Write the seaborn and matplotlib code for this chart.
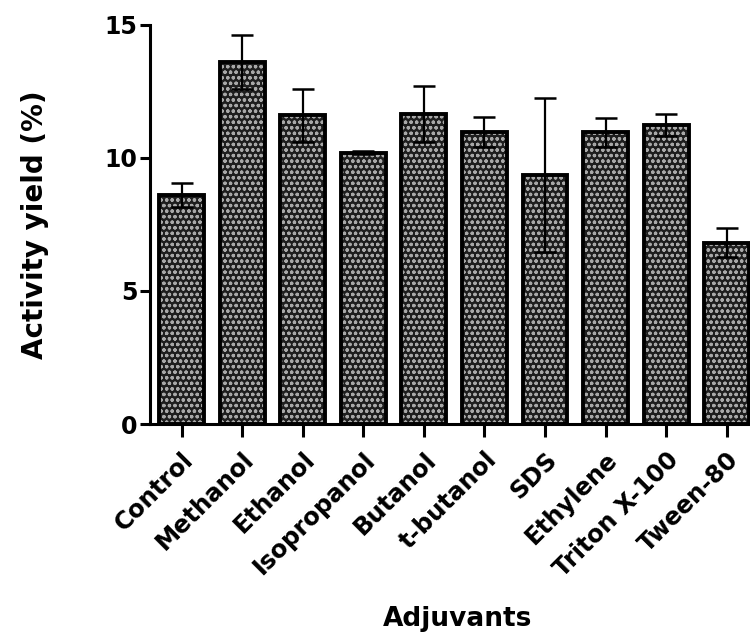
import matplotlib
matplotlib.use("Agg")
import matplotlib.pyplot as plt
import seaborn as sns
import pandas as pd

# Activity yield of the enzyme with different adjuvants (mean ± SD)
adjuvants = ["Control", "Methanol", "Ethanol", "Isopropanol", "Butanol",
             "t-butanol", "SDS", "Ethylene", "Triton X-100", "Tween-80"]
yield_mean = [8.6, 13.6, 11.6, 10.2, 11.65, 10.97, 9.36, 10.97, 11.24, 6.82]
yield_sd = [0.45, 1.02, 1.0, 0.06, 1.05, 0.57, 2.9, 0.55, 0.42, 0.56]

df = pd.DataFrame({"Adjuvants": adjuvants, "Yield": yield_mean, "SD": yield_sd})

sns.set_theme(style="ticks")
plt.rcParams["font.family"] = ["DejaVu Sans"]
plt.rcParams["font.weight"] = "bold"
plt.rcParams["hatch.linewidth"] = 0.9

fig = plt.figure(figsize=(7.5, 6.4), dpi=100)
ax = fig.add_axes([0.2, 0.3375, 0.82, 0.6235])

# dark fill with a light stipple texture
sns.barplot(data=df, x="Adjuvants", y="Yield", color="#1e1e1e", width=0.74,
            errorbar=None, hatch="ooo", edgecolor="#a8a8a8", linewidth=0,
            saturation=1, ax=ax)
# heavy black outline on top
sns.barplot(data=df, x="Adjuvants", y="Yield", color="black", width=0.74,
            errorbar=None, fill=False, linewidth=2.8, saturation=1, ax=ax)

ax.errorbar(range(len(adjuvants)), df["Yield"], yerr=df["SD"], fmt="none",
            ecolor="black", elinewidth=1.6, capsize=8, capthick=1.8, zorder=5)

ax.set_ylim(0, 15)
ax.set_xlim(-0.52, 9.63)
ax.set_yticks([0, 5, 10, 15])

for side in ("top", "right"):
    ax.spines[side].set_visible(False)
for side in ("left", "bottom"):
    ax.spines[side].set_linewidth(2.2)
    ax.spines[side].set_color("black")

ax.tick_params(axis="y", length=7, width=2.2, labelsize=17, pad=2, colors="black")
ax.tick_params(axis="x", length=9, width=2.2, labelsize=17.5, pad=8, colors="black")
plt.setp(ax.get_xticklabels(), rotation=45, ha="right", va="top",
         rotation_mode="anchor", fontweight="bold")
plt.setp(ax.get_yticklabels(), fontweight="bold")

ax.set_ylabel("Activity yield (%)", fontsize=20, fontweight="bold",
              labelpad=40, color="black")
ax.set_xlabel("Adjuvants", fontsize=19, fontweight="bold", labelpad=18,
              color="black")

fig.savefig("out.png", dpi=100, facecolor="white")
